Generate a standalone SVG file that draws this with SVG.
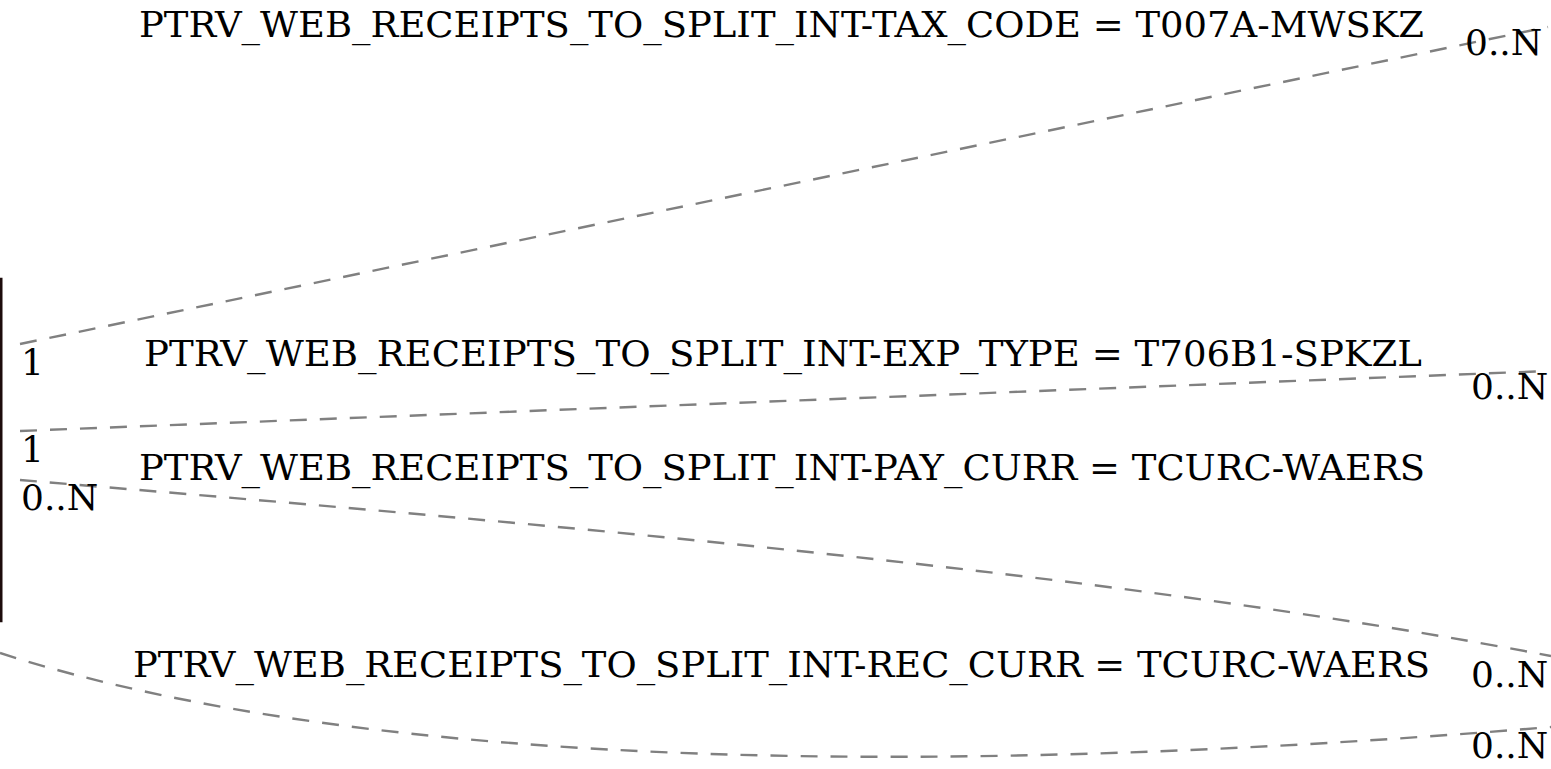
<svg xmlns="http://www.w3.org/2000/svg" width="1551" height="769" viewBox="0 0 1551 769">
<style>
  .edge { fill: none; stroke: #808080; stroke-width: 2.4; stroke-dasharray: 17,13; }
  .lbl { font-family: "DejaVu Serif", "Liberation Serif", serif; font-size: 36px; fill: #000; }
</style>
<rect width="1551" height="769" fill="#ffffff"/>
<g id="node-left">
  <rect x="-100" y="279" width="101.25" height="342" fill="none" stroke="#1d0c0c" stroke-width="2.5"/>
</g>
<g id="connectors">
  <path class="edge" d="M20,344 L1548,27"/>
  <path class="edge" d="M20,431 L1548,371"/>
  <path class="edge" d="M20,480 C520,522 1100,570 1551,656"/>
  <path class="edge" d="M0,653 C380,774.6 971,775 1551,727"/>
</g>
<g id="labels">
  <text class="lbl" x="139" y="37" textLength="1285" lengthAdjust="spacingAndGlyphs">PTRV_WEB_RECEIPTS_TO_SPLIT_INT-TAX_CODE = T007A-MWSKZ</text>
  <text class="lbl" x="1465" y="55">0..N</text>
  <text class="lbl" x="21" y="375">1</text>
  <text class="lbl" x="144" y="366" textLength="1278" lengthAdjust="spacingAndGlyphs">PTRV_WEB_RECEIPTS_TO_SPLIT_INT-EXP_TYPE = T706B1-SPKZL</text>
  <text class="lbl" x="1471" y="399">0..N</text>
  <text class="lbl" x="21" y="462">1</text>
  <text class="lbl" x="21" y="510">0..N</text>
  <text class="lbl" x="139" y="480" textLength="1286" lengthAdjust="spacingAndGlyphs">PTRV_WEB_RECEIPTS_TO_SPLIT_INT-PAY_CURR = TCURC-WAERS</text>
  <text class="lbl" x="133" y="677" textLength="1297" lengthAdjust="spacingAndGlyphs">PTRV_WEB_RECEIPTS_TO_SPLIT_INT-REC_CURR = TCURC-WAERS</text>
  <text class="lbl" x="1471" y="687">0..N</text>
  <text class="lbl" x="1471" y="758">0..N</text>
</g>
</svg>
